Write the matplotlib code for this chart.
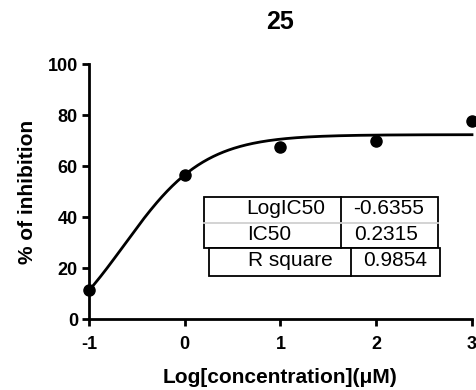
import numpy as np
import matplotlib
matplotlib.use("Agg")
import matplotlib.pyplot as plt

plt.rcParams['font.family'] = ['Liberation Sans', 'DejaVu Sans']

# measured response per dose
log_conc = [-1, 0, 1, 2, 3]
inhibition = [11.2, 56.5, 67.3, 69.7, 77.5]

# 4PL fit parameters
log_ic50 = -0.6355
ic50 = 0.2315
r_square = 0.9854
fit_top = 72.3
fit_bottom = -14.5
hill = 1.03

x_ticks = [-1, 0, 1, 2, 3]
y_ticks = [0, 20, 40, 60, 80, 100]


def four_pl(x):
    return fit_bottom + (fit_top - fit_bottom) / (1 + 10 ** ((log_ic50 - x) * hill))


fig = plt.figure(figsize=(4.77, 3.90), dpi=100)
ax = fig.add_axes([0.1866, 0.182, 0.8029, 0.6538])

xs = np.linspace(-1, 3, 300)
ax.plot(xs, four_pl(xs), color='black', lw=2, clip_on=False, zorder=3)
ax.scatter(log_conc, inhibition, s=64, color='black', zorder=4, clip_on=False)

ax.set_xlim(-1, 3)
ax.set_ylim(0, 100)
ax.set_xticks(x_ticks)
ax.set_yticks(y_ticks)
ax.set_xticklabels([str(t) for t in x_ticks], fontsize=13, fontweight='bold')
ax.set_yticklabels([str(t) for t in y_ticks], fontsize=13, fontweight='bold')
for s in ['top', 'right']:
    ax.spines[s].set_visible(False)
for s in ['left', 'bottom']:
    ax.spines[s].set_linewidth(2)
ax.tick_params(direction='out', length=5, width=2)
ax.tick_params(axis='x', pad=7)
ax.tick_params(axis='y', pad=3)

ax.set_title('25', fontsize=18, fontweight='bold', pad=25)
ax.set_xlabel('Log[concentration](\u03bcM)', fontsize=15, fontweight='bold', labelpad=11)
ax.set_ylabel('% of inhibition', fontsize=15, fontweight='bold', labelpad=8)

# results boxes (figure pixel coords converted to fractions)
W, H = 477.0, 390.0


def box(x0, y0, x1, y1):
    r = plt.Rectangle((x0 / W, 1 - y1 / H), (x1 - x0) / W, (y1 - y0) / H,
                      transform=fig.transFigure, fill=True, facecolor='white',
                      edgecolor='black', lw=1.3, zorder=5)
    fig.add_artist(r)


def vline(x, y0, y1, color='black'):
    fig.add_artist(plt.Line2D([x / W, x / W], [1 - y0 / H, 1 - y1 / H],
                              transform=fig.transFigure, color=color, lw=1.3, zorder=6))


def hline(x0, x1, y, color):
    fig.add_artist(plt.Line2D([x0 / W, x1 / W], [1 - y / H, 1 - y / H],
                              transform=fig.transFigure, color=color, lw=1.3, zorder=6))


box(204, 197, 438, 248)
vline(341, 197, 248)
hline(204, 438, 223, '#d0d0d0')
box(209, 248, 440, 276)
vline(351, 248, 276)

tkw = dict(fontsize=15, va='center', zorder=7, transform=fig.transFigure)
fig.text(246 / W, 1 - 209 / H, 'LogIC50', ha='left', **tkw)
fig.text(247 / W, 1 - 234 / H, 'IC50', ha='left', **tkw)
fig.text(353 / W, 1 - 209 / H, f'{log_ic50:.4f}', ha='left', **tkw)
fig.text(354 / W, 1 - 234 / H, f'{ic50:.4f}', ha='left', **tkw)
fig.text(333 / W, 1 - 261 / H, 'R square', ha='right', **tkw)
fig.text(363 / W, 1 - 261 / H, f'{r_square:.4f}', ha='left', **tkw)

fig.savefig('out.png', dpi=100)
